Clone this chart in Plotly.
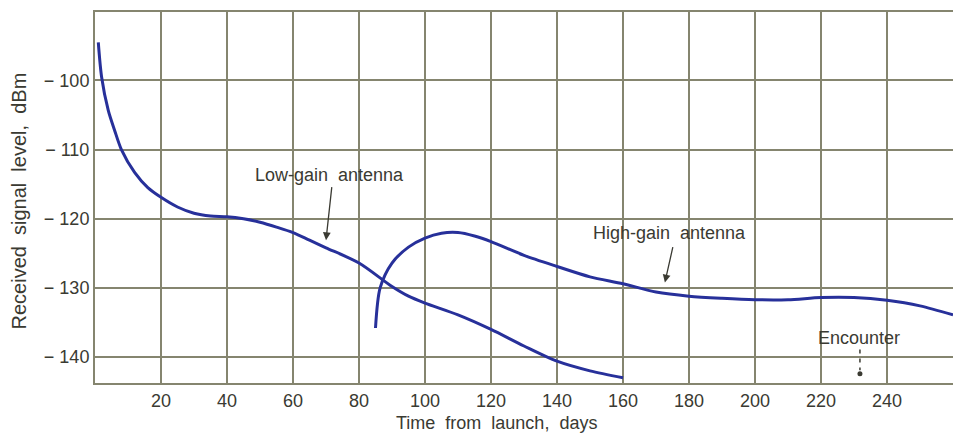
import plotly.graph_objects as go

# ---- data ----
low_gain_days = [1, 2, 4, 6, 8, 12, 16, 20, 25, 30, 35, 40, 45, 50, 55, 60, 65, 70, 80, 90, 95, 100, 110, 120, 130, 140, 150, 160]
low_gain_dbm = [-94.5, -99.5, -104.3, -107.3, -110.0, -113.3, -115.5, -116.9, -118.3, -119.2, -119.6, -119.7, -120.0, -120.5, -121.2, -122.0, -123.1, -124.2, -126.4, -129.8, -131.2, -132.2, -133.9, -136.0, -138.4, -140.6, -142.0, -143.0]

high_gain_days = [85, 86.4, 90, 95, 100, 105, 110, 115, 120, 130, 140, 150, 160, 170, 180, 190, 200, 210, 220, 230, 240, 250, 260]
high_gain_dbm = [-135.8, -130.0, -126.4, -124.1, -122.8, -122.1, -122.0, -122.5, -123.3, -125.3, -126.9, -128.4, -129.4, -130.6, -131.2, -131.5, -131.7, -131.7, -131.4, -131.4, -131.8, -132.6, -133.9]

x_ticks = [20, 40, 60, 80, 100, 120, 140, 160, 180, 200, 220, 240]
y_ticks = [-140, -130, -120, -110, -100]
y_tick_labels = ["\u2212 140", "\u2212 130", "\u2212 120", "\u2212 110", "\u2212 100"]

encounter_day = 231.8
encounter_dash_dbm = [-138.9, -141.9]
encounter_dot_dbm = -142.4

# label positions (data coords)
low_label = (71.2, -113.7)
low_arrow_tail = (71.8, -115.2)
low_arrow_tip = (70.0, -123.1)
high_label = (174.2, -122.1)
high_arrow_tail = (175.2, -123.9)
high_arrow_tip = (172.7, -129.2)
enc_label = (231.5, -137.3)

FONT = "Liberation Sans, Arial, sans-serif"
TXT = "#3a3a32"
GRID = "#85856f"
CURVE = "#27309a"

fig = go.Figure()
fig.add_trace(go.Scatter(x=low_gain_days, y=low_gain_dbm, mode="lines",
                         line=dict(color=CURVE, width=3, shape="spline", smoothing=0.8),
                         showlegend=False, hoverinfo="skip", cliponaxis=True))
fig.add_trace(go.Scatter(x=high_gain_days, y=high_gain_dbm, mode="lines",
                         line=dict(color=CURVE, width=3, shape="spline", smoothing=0.8),
                         showlegend=False, hoverinfo="skip", cliponaxis=True))
fig.add_trace(go.Scatter(x=[encounter_day, encounter_day], y=encounter_dash_dbm, mode="lines",
                         line=dict(color=TXT, width=1.5, dash="4px,5px"),
                         showlegend=False, hoverinfo="skip"))
fig.add_trace(go.Scatter(x=[encounter_day], y=[encounter_dot_dbm], mode="markers",
                         marker=dict(color=TXT, size=5),
                         showlegend=False, hoverinfo="skip"))

ann_font = dict(family=FONT, size=18, color=TXT)
annotations = [
    dict(x=low_label[0], y=low_label[1], xref="x", yref="y", text="Low-gain \u00a0antenna",
         showarrow=False, font=ann_font),
    dict(x=low_arrow_tip[0], y=low_arrow_tip[1], ax=low_arrow_tail[0], ay=low_arrow_tail[1],
         xref="x", yref="y", axref="x", ayref="y", text="", showarrow=True,
         arrowhead=2, arrowsize=1.2, arrowwidth=1.3, arrowcolor=TXT),
    dict(x=high_label[0], y=high_label[1], xref="x", yref="y", text="High-gain \u00a0antenna",
         showarrow=False, font=ann_font),
    dict(x=high_arrow_tip[0], y=high_arrow_tip[1], ax=high_arrow_tail[0], ay=high_arrow_tail[1],
         xref="x", yref="y", axref="x", ayref="y", text="", showarrow=True,
         arrowhead=2, arrowsize=1.2, arrowwidth=1.3, arrowcolor=TXT),
    dict(x=enc_label[0], y=enc_label[1], xref="x", yref="y", text="Encounter",
         showarrow=False, font=ann_font),
    dict(x=0.4685, y=0, xref="paper", yref="paper", yshift=-40, yanchor="middle",
         text="Time \u00a0from \u00a0launch, \u00a0days", showarrow=False,
         font=dict(family=FONT, size=18, color=TXT)),
    dict(x=0, y=0.5, xref="paper", yref="paper", xshift=-77, yshift=-4, textangle=-90,
         xanchor="center", yanchor="middle",
         text="Received \u00a0signal \u00a0level, \u00a0dBm", showarrow=False,
         font=dict(family=FONT, size=20, color=TXT)),
]

fig.update_layout(
    width=953, height=433,
    margin=dict(l=95, r=0, t=12, b=50),
    paper_bgcolor="white", plot_bgcolor="white",
    font=dict(family=FONT, color=TXT),
    annotations=annotations,
    xaxis=dict(range=[0, 260], tickvals=x_ticks, ticktext=[str(v) for v in x_ticks],
               showgrid=True, gridcolor=GRID, gridwidth=2,
               showline=True, linecolor=GRID, linewidth=2, mirror=True,
               zeroline=False, ticks="", tickfont=dict(family=FONT, size=18, color=TXT)),
    yaxis=dict(range=[-143.75, -90.1], tickvals=y_ticks, ticktext=y_tick_labels,
               showgrid=True, gridcolor=GRID, gridwidth=2,
               showline=True, linecolor=GRID, linewidth=2,
               zeroline=False, ticks="", ticklabelstandoff=0,
               tickfont=dict(family=FONT, size=18, color=TXT)),
)

fig.write_html(
    "out.html",
    config={"displayModeBar": False},
    post_script="document.body.style.margin='0';document.body.style.overflow='hidden';"
                "document.documentElement.style.overflow='hidden';",
)
